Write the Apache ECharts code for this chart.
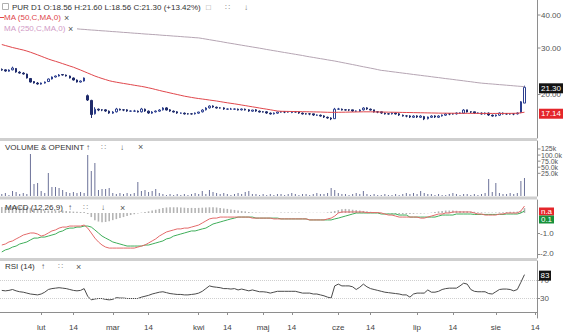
<!DOCTYPE html>
<html><head><meta charset="utf-8">
<script src="https://cdn.jsdelivr.net/npm/echarts@6/dist/echarts.min.js"></script>
<style>html,body{margin:0;padding:0;background:#fff}#c{width:564px;height:334px}</style>
</head><body><div id="c"></div>
<script>
// ---------- DATA ----------
const opens = [24.9,24.8,24.5,24.8,25.1,24.3,24.1,23.9,23.0,22.4,
 22.1,21.9,22.1,22.4,22.9,23.3,23.5,23.8,23.7,23.5,
 23.1,22.7,22.3,22.5,19.8,19.0,16.9,17.6,17.5,17.5,
 17.3,17.0,17.2,17.6,17.5,17.5,17.3,17.3,17.3,17.2,
 17.6,17.3,17.0,17.2,17.3,17.5,17.8,17.5,17.3,17.2,
 17.0,17.0,16.9,16.9,16.9,17.0,17.2,17.5,17.8,18.1,
 17.9,17.8,17.8,17.6,17.6,17.6,17.6,17.5,17.6,17.5,
 17.3,17.5,17.3,17.2,17.2,17.0,16.9,17.0,17.2,17.2,
 17.2,17.1,17.2,17.2,17.0,16.9,16.9,16.9,16.7,16.7,
 16.6,16.4,16.3,16.2,17.6,17.6,17.5,17.5,17.5,17.3,
 17.3,17.5,17.8,17.6,17.5,17.2,17.2,17.0,16.9,16.9,
 17.0,16.9,16.7,16.6,16.6,16.4,16.6,16.4,16.5,16.2,
 16.4,16.6,16.4,16.6,16.7,16.9,16.9,16.9,17.0,17.0,
 17.5,17.2,17.2,17.0,17.0,16.9,17.0,16.7,16.6,16.7,
 17.0,16.9,16.9,16.9,16.9,17.1,18.56];
const closes = [24.76,24.55,24.76,25.20,24.34,24.12,23.92,23.10,22.30,22.11,
 21.92,22.11,22.30,22.90,23.30,23.50,23.71,23.71,23.50,23.10,
 22.70,22.30,22.50,23.10,19.06,16.80,17.60,17.47,17.47,17.32,
 17.02,17.17,17.63,17.47,17.47,17.32,17.32,17.32,17.17,17.63,
 17.32,17.02,17.17,17.32,17.47,17.78,17.47,17.32,17.17,17.02,
 17.02,16.88,16.88,16.88,17.02,17.17,17.47,17.78,18.09,17.94,
 17.78,17.78,17.63,17.63,17.63,17.63,17.47,17.63,17.47,17.32,
 17.47,17.32,17.17,17.17,17.02,16.88,17.02,17.17,17.17,17.17,
 17.17,17.17,17.17,17.02,16.88,16.88,16.88,16.73,16.73,16.58,
 16.44,16.30,16.16,17.60,17.63,17.47,17.47,17.47,17.32,17.32,
 17.47,17.78,17.63,17.47,17.17,17.17,17.02,16.88,16.88,17.02,
 16.88,16.73,16.58,16.58,16.44,16.58,16.44,16.58,16.16,16.44,
 16.58,16.44,16.58,16.73,16.88,16.88,16.88,17.02,17.02,17.47,
 17.17,17.17,17.02,17.02,16.88,17.02,16.73,16.58,16.73,17.02,
 16.88,16.88,16.88,16.88,17.02,18.78,21.30];
const lows = [24.6,24.4,24.4,24.7,24.2,24.0,23.8,23.0,22.2,22.0,
 21.8,21.8,22.0,22.3,22.8,23.2,23.4,23.6,23.4,23.0,
 22.6,22.2,22.2,22.4,18.9,16.3,16.8,17.3,17.3,17.2,
 16.9,16.9,17.1,17.4,17.3,17.2,17.2,17.2,17.1,17.1,
 17.2,16.9,16.9,17.1,17.2,17.4,17.4,17.2,17.1,16.9,
 16.9,16.8,16.8,16.8,16.8,16.9,17.1,17.4,17.7,17.8,
 17.7,17.7,17.5,17.5,17.5,17.5,17.4,17.4,17.4,17.2,
 17.2,17.2,17.1,17.1,16.9,16.8,16.8,16.9,17.1,17.0,
 17.1,17.0,17.1,16.9,16.8,16.8,16.7,16.6,16.6,16.5,
 16.3,16.2,16.0,16.2,17.5,17.4,17.4,17.3,17.2,17.2,
 17.2,17.4,17.5,17.4,17.1,17.0,16.9,16.8,16.8,16.8,
 16.8,16.6,16.5,16.4,16.3,16.3,16.3,16.3,16.0,16.1,
 16.3,16.3,16.3,16.5,16.6,16.7,16.8,16.8,16.9,16.9,
 17.1,17.0,16.9,16.9,16.8,16.8,16.6,16.5,16.5,16.6,
 16.8,16.8,16.8,16.7,16.8,17.0,18.56];
const highs = [25.1,24.9,24.9,25.5,25.2,24.5,24.3,24.0,23.1,22.5,
 22.3,22.2,22.4,23.0,23.4,23.6,23.9,23.9,23.8,23.6,
 23.2,22.8,22.6,23.2,20.0,19.1,17.9,17.7,17.6,17.6,
 17.4,17.3,17.8,17.7,17.6,17.6,17.4,17.5,17.4,17.8,
 17.7,17.4,17.3,17.4,17.6,17.9,17.9,17.6,17.4,17.3,
 17.1,17.1,17.0,17.0,17.1,17.2,17.6,17.9,18.2,18.2,
 18.0,17.9,17.9,17.7,17.8,17.7,17.7,17.7,17.7,17.6,
 17.5,17.6,17.4,17.3,17.3,17.1,17.1,17.2,17.3,17.3,
 17.3,17.3,17.3,17.2,17.1,17.0,17.0,16.9,16.8,16.8,
 16.7,16.5,16.4,17.8,17.8,17.7,17.6,17.6,17.5,17.4,
 17.6,17.9,17.9,17.7,17.5,17.3,17.2,17.1,17.0,17.1,
 17.1,17.0,16.8,16.7,16.7,16.7,16.7,16.7,16.6,16.5,
 16.7,16.7,16.7,16.8,17.0,17.0,17.0,17.1,17.1,17.6,
 17.5,17.3,17.2,17.1,17.1,17.1,17.1,16.8,16.8,17.1,
 17.1,17.0,17.0,17.0,17.1,18.9,21.60];
const ma50 = [30.93,30.66,30.40,30.13,29.92,29.69,29.48,29.22,28.92,28.60,
 28.27,27.93,27.59,27.26,26.97,26.72,26.46,26.18,25.91,25.64,
 25.38,25.07,24.76,24.44,24.12,23.81,23.50,23.24,23.00,22.78,
 22.56,22.40,22.27,22.15,22.03,21.92,21.81,21.69,21.58,21.47,
 21.35,21.20,21.06,20.89,20.73,20.57,20.43,20.28,20.14,20.00,
 19.86,19.72,19.61,19.50,19.40,19.31,19.23,19.15,19.06,18.98,
 18.90,18.80,18.70,18.61,18.52,18.44,18.35,18.25,18.16,18.06,
 17.97,17.88,17.78,17.69,17.60,17.51,17.41,17.32,17.28,17.27,
 17.26,17.25,17.24,17.23,17.22,17.21,17.20,17.19,17.18,17.17,
 17.15,17.13,17.12,17.12,17.13,17.14,17.15,17.16,17.17,17.18,
 17.19,17.20,17.20,17.20,17.19,17.18,17.17,17.16,17.15,17.14,
 17.13,17.12,17.11,17.10,17.09,17.08,17.07,17.06,17.05,17.04,
 17.03,17.02,17.01,17.00,17.00,16.99,16.99,16.98,16.98,16.98,
 16.98,16.97,16.97,16.97,16.96,16.96,16.96,16.96,16.96,16.96,
 16.96,16.97,16.97,16.98,16.99,17.05,17.14];
const ma250 = [36.95,36.88,36.82,36.75,36.66,36.60,36.53,36.47,36.40,36.31,
 36.24,36.18,36.12,36.03,35.96,35.90,35.84,35.75,35.69,35.63,
 35.57,35.47,35.35,35.29,35.19,35.10,35.04,34.95,34.86,34.80,
 34.71,34.62,34.56,34.47,34.38,34.32,34.23,34.14,34.08,33.99,
 33.90,33.84,33.76,33.70,33.61,33.52,33.46,33.38,33.29,33.23,
 33.15,33.06,33.00,32.92,32.83,32.77,32.60,32.43,32.26,32.09,
 31.92,31.76,31.57,31.40,31.24,31.08,30.91,30.75,30.59,30.43,
 30.27,30.12,29.96,29.80,29.62,29.47,29.31,29.16,29.00,28.85,
 28.70,28.55,28.40,28.25,28.11,27.93,27.78,27.64,27.49,27.35,
 27.21,27.06,26.92,26.78,26.62,26.45,26.29,26.13,25.97,25.81,
 25.64,25.48,25.33,25.17,25.02,24.85,24.69,24.61,24.50,24.40,
 24.31,24.21,24.11,24.02,23.92,23.82,23.73,23.64,23.54,23.46,
 23.36,23.26,23.18,23.08,22.98,22.90,22.81,22.71,22.63,22.54,
 22.44,22.36,22.26,22.17,22.09,22.03,21.97,21.92,21.86,21.80,
 21.75,21.69,21.64,21.58,21.52,21.47,21.42];
const volumes = [7200,10800,3600,18000,14400,7200,10800,7200,151200,43200,
 46800,18000,10800,82800,32400,32400,28800,21600,14400,10800,
 14400,10800,14400,10800,147600,90000,118800,21600,25200,25200,
 28800,10800,7200,10800,7200,10800,7200,10800,50400,18000,
 21600,14400,18000,25200,10800,7200,3600,7200,3600,7200,
 3600,7200,3600,7200,10800,7200,18000,7200,21600,14400,
 10800,7200,10800,7200,3600,7200,10800,7200,14400,18000,
 7200,7200,3600,7200,3600,7200,3600,7200,7200,3600,
 7200,10800,7200,3600,7200,7200,3600,7200,10800,7200,
 7200,10800,28800,21600,10800,7200,7200,3600,7200,10800,
 7200,18000,7200,3600,7200,3600,3600,7200,3600,3600,
 7200,3600,7200,10800,7200,10800,7200,18000,10800,7200,
 7200,3600,7200,3600,3600,7200,10800,7200,3600,7200,
 7200,3600,7200,3600,7200,10800,61200,14400,46800,10800,
 7200,7200,10800,7200,10800,54000,64800];
const macdLine = [-1.57,-1.52,-1.42,-1.37,-1.27,-1.18,-1.08,-1.03,-0.98,-0.98,
 -1.03,-1.13,-1.08,-0.98,-0.88,-0.83,-0.74,-0.69,-0.69,-0.64,
 -0.64,-0.64,-0.64,-0.59,-0.74,-0.98,-1.23,-1.42,-1.57,-1.67,
 -1.72,-1.72,-1.72,-1.72,-1.72,-1.72,-1.72,-1.72,-1.67,-1.62,
 -1.57,-1.47,-1.37,-1.27,-1.13,-1.03,-0.93,-0.88,-0.83,-0.78,
 -0.78,-0.74,-0.74,-0.69,-0.64,-0.59,-0.49,-0.39,-0.29,-0.25,
 -0.25,-0.20,-0.20,-0.20,-0.20,-0.20,-0.20,-0.20,-0.20,-0.20,
 -0.25,-0.25,-0.25,-0.25,-0.25,-0.25,-0.29,-0.29,-0.29,-0.29,
 -0.29,-0.29,-0.29,-0.29,-0.29,-0.29,-0.34,-0.34,-0.34,-0.34,
 -0.34,-0.29,-0.25,-0.15,0.00,0.05,0.05,0.05,0.05,0.05,
 0.05,0.05,0.02,0.02,0.02,0.02,0.00,-0.05,-0.10,-0.10,
 -0.15,-0.20,-0.20,-0.20,-0.20,-0.20,-0.20,-0.25,-0.25,-0.20,
 -0.15,-0.10,-0.05,-0.05,0.00,0.00,0.05,0.05,0.05,0.05,
 0.05,0.05,0.00,-0.05,-0.05,-0.10,-0.10,-0.10,-0.10,-0.05,
 -0.05,0.00,0.00,0.00,0.00,0.10,0.34];
const signalLine = [-1.91,-1.81,-1.76,-1.67,-1.62,-1.52,-1.47,-1.42,-1.32,-1.23,
 -1.23,-1.18,-1.18,-1.13,-1.08,-1.03,-0.93,-0.88,-0.78,-0.74,
 -0.74,-0.69,-0.69,-0.64,-0.64,-0.69,-0.83,-0.98,-1.13,-1.23,
 -1.32,-1.42,-1.47,-1.52,-1.57,-1.62,-1.62,-1.62,-1.62,-1.62,
 -1.57,-1.57,-1.52,-1.47,-1.42,-1.37,-1.27,-1.23,-1.13,-1.08,
 -1.03,-0.98,-0.93,-0.88,-0.88,-0.83,-0.78,-0.74,-0.64,-0.54,
 -0.49,-0.44,-0.39,-0.34,-0.29,-0.25,-0.20,-0.20,-0.20,-0.20,
 -0.20,-0.25,-0.25,-0.25,-0.25,-0.25,-0.25,-0.25,-0.29,-0.29,
 -0.29,-0.29,-0.29,-0.29,-0.29,-0.29,-0.34,-0.34,-0.34,-0.34,
 -0.34,-0.34,-0.34,-0.29,-0.25,-0.20,-0.15,-0.10,-0.05,0.00,
 0.00,0.00,0.00,0.00,0.00,0.00,-0.05,-0.05,-0.05,-0.05,
 -0.05,-0.10,-0.10,-0.10,-0.20,-0.20,-0.20,-0.20,-0.20,-0.20,
 -0.20,-0.20,-0.15,-0.10,-0.10,-0.10,-0.10,-0.05,-0.05,-0.05,
 -0.05,-0.05,-0.07,-0.07,-0.07,-0.07,-0.07,-0.07,-0.07,-0.07,
 -0.07,-0.05,-0.05,-0.05,-0.05,0.00,0.10];
const macdHist = [0.30,0.30,0.32,0.33,0.33,0.32,0.30,0.28,0.25,0.22,
 0.20,0.15,0.12,0.12,0.12,0.12,0.12,0.12,0.10,0.08,
 0.07,0.06,0.05,0.05,-0.05,-0.20,-0.35,-0.42,-0.45,-0.44,
 -0.40,-0.35,-0.30,-0.25,-0.20,-0.15,-0.10,-0.06,-0.03,0.02,
 0.05,0.08,0.12,0.16,0.20,0.24,0.27,0.28,0.28,0.28,
 0.27,0.26,0.25,0.25,0.25,0.25,0.26,0.27,0.28,0.28,
 0.27,0.25,0.22,0.20,0.17,0.15,0.12,0.10,0.08,0.05,
 0.03,0.02,0.02,0.01,0.01,0.00,0.01,0.01,0.02,0.02,
 0.02,0.02,0.02,0.02,0.01,0.01,0.01,0.01,0.01,0.01,
 0.01,0.03,0.06,0.10,0.14,0.18,0.20,0.18,0.16,0.14,
 0.12,0.10,0.08,0.06,0.04,0.02,0.01,-0.01,-0.03,-0.04,
 -0.05,-0.06,-0.06,-0.06,-0.05,-0.04,-0.03,-0.03,-0.02,-0.01,
 0.02,0.05,0.08,0.10,0.12,0.12,0.12,0.11,0.10,0.09,
 0.08,0.07,0.06,0.04,0.03,0.02,0.02,0.02,0.03,0.03,
 0.04,0.05,0.06,0.06,0.07,0.10,0.24];
const rsi = [48,47,48,50,47,45,44,42,40,39,
 38,40,44,50,52,53,54,53,52,50,
 48,47,48,52,35,27,29,30,30,28,
 27,28,32,31,31,30,30,30,30,33,
 35,37,40,42,44,45,43,41,40,39,
 39,38,38,39,40,42,46,52,58,56,
 55,54,52,52,51,52,49,51,49,47,
 49,47,45,45,44,42,44,46,46,46,
 46,46,46,44,42,42,42,40,40,38,
 36,33,31,58,62,58,58,58,56,50,
 55,62,56,52,50,48,46,44,43,42,
 41,40,38,38,33,40,42,42,42,49,
 44,44,46,50,52,53,53,53,58,64,
 62,50,46,45,45,45,41,40,45,50,
 51,51,50,47,50,66,83];
const slotCount = 150;                       // trading-day slots on the time axis
const tickIndex = [11,20,31,41,55,63,73,81,94,103,116,126,138,149];
const tickText  = ['lut','14','mar','14','kwi','14','maj','14','cze','14','lip','14','sie','14'];
const priceTicks = [20,30,40];
const volTicks = [25000,50000,75000,100000,125000];
const volTickText = ['25.0k','50.0k','75.0k','100.0k','125k'];
const macdTicks = [-2,-1];
const rsiTicks = [30,70];
const lastClose = 21.30, lastMa50 = 17.14, lastRsi = 83;

// ---------- CHART ----------
const FONT = 'Liberation Sans';
const categories = Array.from({length: slotCount}, (_, i) => String(i));
const candles = opens.map((o, i) => [o, closes[i], lows[i], highs[i]]);
const isTick = (i) => tickIndex.indexOf(i) >= 0;
const RIGHT = 27;
const grids = [
  {left: 0, right: RIGHT, top: 0, height: 138},
  {left: 0, right: RIGHT, top: 141, height: 55},
  {left: 0, right: RIGHT, top: 200, height: 58},
  {left: 0, right: RIGHT, top: 261, height: 57}
];
const axisGray = '#8e8e8e';
const lblStyle = {fontSize: 8, color: '#555', fontFamily: FONT, margin: 3, showMinLabel: true, showMaxLabel: true};

const chart = echarts.init(document.getElementById('c'), null, {renderer: 'svg', width: 564, height: 334});
const option = {
  animation: false,
  backgroundColor: '#ffffff',
  textStyle: {fontFamily: FONT},
  grid: grids,
  xAxis: [0, 1, 2, 3].map(k => ({
    type: 'category', gridIndex: k, data: categories, boundaryGap: true,
    axisLine: {show: k === 3, lineStyle: {color: axisGray}},
    axisTick: {show: k === 3, alignWithLabel: true, length: 3, interval: isTick, lineStyle: {color: axisGray}},
    axisLabel: {show: k === 3, interval: isTick, fontSize: 8, color: '#444', fontFamily: FONT, margin: 5,
      formatter: (v, i) => { const j = tickIndex.indexOf(i); return j >= 0 ? tickText[j] : ''; }},
    splitLine: {show: false}
  })),
  yAxis: [
    {type: 'log', logBase: 10, gridIndex: 0, position: 'right', min: 13.69, max: 45.6,
     axisLine: {show: true, lineStyle: {color: axisGray}}, axisTick: {show: false}, axisLabel: {show: false}, splitLine: {show: false}},
    {type: 'value', gridIndex: 1, position: 'left', min: 0, max: 198000, show: false},
    {type: 'value', gridIndex: 1, position: 'right', min: -68400, max: 157900,
     axisLine: {show: true, lineStyle: {color: axisGray}}, axisTick: {show: false}, axisLabel: {show: false},
     splitLine: {show: false}},
    {type: 'value', gridIndex: 2, position: 'right', min: -2.206, max: 0.637,
     axisLine: {show: true, lineStyle: {color: axisGray}},
     axisTick: {show: true, length: 3, customValues: macdTicks, lineStyle: {color: axisGray}},
     axisLabel: Object.assign({customValues: macdTicks, formatter: v => v.toFixed(1)}, lblStyle),
     splitLine: {show: false}},
    {type: 'value', gridIndex: 3, position: 'right', min: -13.3, max: 113.3,
     axisLine: {show: true, lineStyle: {color: axisGray}},
     axisTick: {show: true, length: 3, customValues: rsiTicks, lineStyle: {color: axisGray}},
     axisLabel: Object.assign({customValues: rsiTicks, formatter: v => String(v)}, lblStyle),
     splitLine: {show: false}}
  ],
  series: [
    {type: 'candlestick', xAxisIndex: 0, yAxisIndex: 0, data: candles, barWidth: 2,
     itemStyle: {color: '#ffffff', color0: '#1f2b6b', borderColor: '#2c3f8f', borderColor0: '#1f2b6b', borderWidth: 1}},
    {type: 'line', xAxisIndex: 0, yAxisIndex: 0, data: ma250, symbol: 'none', lineStyle: {color: '#b5a5b3', width: 1}},
    {type: 'line', xAxisIndex: 0, yAxisIndex: 0, data: ma50, symbol: 'none', lineStyle: {color: '#e0474c', width: 1}},
    {type: 'bar', xAxisIndex: 1, yAxisIndex: 1, data: volumes, barWidth: 1, itemStyle: {color: '#6c7299'}},
    {type: 'bar', xAxisIndex: 2, yAxisIndex: 3, data: macdHist, barWidth: 1.6, itemStyle: {color: '#b4b4b4'}},
    {type: 'line', xAxisIndex: 2, yAxisIndex: 3, data: signalLine, symbol: 'none', lineStyle: {color: '#3fae5a', width: 1}},
    {type: 'line', xAxisIndex: 2, yAxisIndex: 3, data: macdLine, symbol: 'none', lineStyle: {color: '#e36a6a', width: 1}},
    {type: 'line', xAxisIndex: 3, yAxisIndex: 4, data: rsi, symbol: 'none', lineStyle: {color: '#4a4a4a', width: 1},
     markLine: {silent: true, symbol: ['none', 'none'], label: {show: false},
       lineStyle: {color: '#cfcfcf', type: 'dotted', width: 1}, data: rsiTicks.map(v => ({yAxis: v}))}}
  ]
};
chart.setOption(option);

// ---------- TEXT / DECORATION ----------
const g = [];
function txt(x, y, s, fill, size, align) {
  g.push({type: 'text', z: 50, style: {x: x, y: y, text: s, fill: fill, font: (size || 8) + 'px "' + FONT + '"',
    textAlign: align || 'left', align: align || 'left', textVerticalAlign: 'middle', verticalAlign: 'middle'}});
}
function rect(x, y, w, h, fill, z) {
  g.push({type: 'rect', z: z || 40, shape: {x: x, y: y, width: w, height: h}, style: {fill: fill}});
}
function tick(y) {
  g.push({type: 'line', z: 45, shape: {x1: 537.5, y1: y, x2: 540.5, y2: y}, style: {stroke: axisGray, lineWidth: 1}});
}
function box(y, s, bg, w, h) {
  const hh = h || 10;
  rect(539, y - hh / 2, w || 24, hh, bg, 60);
  g.push({type: 'text', z: 61, style: {x: 539 + (w || 24) / 2, y: y, text: s, fill: '#ffffff', font: '8px "' + FONT + '"',
    textAlign: 'center', align: 'center', textVerticalAlign: 'middle', verticalAlign: 'middle'}});
}
// panel separators
[[138, 3], [196.5, 3], [258, 3]].forEach(([y, h]) => rect(0, y, 537, h, '#cfcfcf', 30));
// price axis ticks + labels through the log axis
priceTicks.forEach(v => {
  const y = chart.convertToPixel({yAxisIndex: 0}, v);
  tick(y); txt(541, y, v.toFixed(2), '#555', 8);
});
// volume axis ticks + labels through the volume label axis
volTicks.forEach((v, i) => {
  const y = chart.convertToPixel({yAxisIndex: 2}, v);
  tick(y); txt(541, y, volTickText[i], '#555', 7);
});
// value boxes
box(chart.convertToPixel({yAxisIndex: 0}, lastClose) + 1, lastClose.toFixed(2), '#141414');
box(chart.convertToPixel({yAxisIndex: 0}, lastMa50) + 1.5, lastMa50.toFixed(2), '#e4262b');
box(211.5, 'n.a', '#e4262b', 15, 8);
box(219.5, '0.1', '#17913a', 15, 8);
box(chart.convertToPixel({yAxisIndex: 4}, lastRsi) + 1, String(lastRsi), '#141414', 12);
// legends (white backing so lines pass behind)
rect(0, 1, 255, 11, '#ffffff', 42);
rect(0, 12, 74, 11, '#ffffff', 42);
rect(0, 23, 77, 11, '#ffffff', 42);
g.push({type: 'rect', z: 50, shape: {x: 2.5, y: 3.5, width: 6, height: 6}, style: {fill: 'none', stroke: '#b0b0b0', lineWidth: 1}});
txt(12, 7, 'PUR D1 O:18.56 H:21.60 L:18.56 C:21.30 (+13.42%)', '#333', 8);
txt(206, 7, '□', '#999', 8); txt(225, 7, '∷', '#999', 8); txt(244, 7, '↓', '#777', 8);
g.push({type: 'line', z: 50, shape: {x1: 0, y1: 17.5, x2: 4, y2: 17.5}, style: {stroke: '#e0474c', lineWidth: 1}});
txt(4, 17.5, 'MA (50,C,MA,0)', '#e0474c', 8); txt(64, 17.5, '×', '#555', 9);
txt(4, 28.5, 'MA (250,C,MA,0)', '#d19ac6', 8); txt(68, 28.5, '×', '#555', 9);
// sub-panel titles
txt(5, 147, 'VOLUME & OPENINT', '#333', 8);
txt(86, 147, '↑', '#555', 8); txt(101, 147, '∷', '#999', 8); txt(120, 147, '↓', '#555', 8); txt(138, 147, '×', '#555', 9);
txt(5, 207.5, 'MACD (12,26,9)', '#333', 8);
txt(68, 207.5, '↑', '#555', 8); txt(83, 207.5, '∷', '#999', 8); txt(101, 207.5, '↓', '#555', 8); txt(120, 207.5, '×', '#555', 9);
txt(5, 266.5, 'RSI (14)', '#333', 8);
txt(41, 266.5, '↑', '#555', 8); txt(58, 266.5, '∷', '#999', 8); txt(76, 266.5, '×', '#555', 9);
chart.setOption({graphic: {elements: g}});
</script></body></html>
